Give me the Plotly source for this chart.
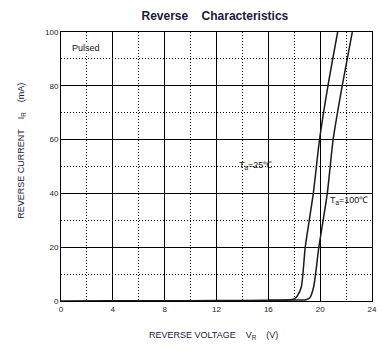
import plotly.graph_objects as go

# Data
v_25 = [0, 4, 8, 12, 16, 17.5, 18.0, 18.25, 18.55, 18.85, 19.47, 19.95, 20.6, 21.35]
i_25 = [0, 0.05, 0.1, 0.15, 0.25, 0.35, 0.8, 2.0, 5.3, 20, 40, 60, 80, 100]
v_100 = [16, 18.0, 18.9, 19.2, 19.5, 19.9, 20.55, 21.0, 21.7, 22.48]
i_100 = [0.25, 0.35, 0.5, 1.2, 5.3, 20, 40, 60, 80, 100]

x_ticks = [0, 4, 8, 12, 16, 20, 24]
y_ticks = [0, 20, 40, 60, 80, 100]

FONT = "Liberation Sans, Arial, sans-serif"
LINE = "#1a1a1a"
TITLE_COLOR = "#1a1a3a"

fig = go.Figure()
fig.add_trace(go.Scatter(x=v_25, y=i_25, mode="lines",
                         line=dict(color=LINE, width=1.5, shape="spline", smoothing=0.6),
                         showlegend=False, hoverinfo="skip"))
fig.add_trace(go.Scatter(x=v_100, y=i_100, mode="lines",
                         line=dict(color=LINE, width=1.5, shape="spline", smoothing=0.6),
                         showlegend=False, hoverinfo="skip"))

axis_common = dict(
    showline=True, linecolor="black", linewidth=1, mirror=True,
    showgrid=True, gridcolor="black", gridwidth=1,
    zeroline=False, ticks="", automargin=False,
    tickfont=dict(family=FONT, size=8, color="#222"),
)

fig.update_xaxes(range=[0, 24], tickvals=x_ticks, **axis_common,
                 minor=dict(dtick=2, tick0=0, showgrid=True, gridcolor="black",
                            griddash="1px,2px", gridwidth=1))
fig.update_yaxes(range=[0, 100], tickvals=y_ticks, **axis_common,
                 minor=dict(dtick=10, tick0=0, showgrid=True, gridcolor="black",
                            griddash="1px,2px", gridwidth=1))

title_font = dict(family=FONT, size=9, color=TITLE_COLOR)
fig.add_annotation(xref="paper", yref="paper", x=0.489, y=-0.130,
                   text="REVERSE VOLTAGE    V<sub>R</sub>    (V)", showarrow=False,
                   xanchor="center", yanchor="middle", font=title_font)
fig.add_annotation(xref="paper", yref="paper", x=-0.126, y=0.558, textangle=-90,
                   text="REVERSE CURRENT    I<sub>R</sub>    (mA)", showarrow=False,
                   xanchor="center", yanchor="middle", font=title_font)

ann_font = dict(family=FONT, size=9, color="#111")
fig.add_annotation(x=0.77, y=94.2, text="Pulsed", showarrow=False, xanchor="left",
                   yanchor="middle", font=ann_font, bgcolor="white", borderpad=0)
fig.add_annotation(x=13.55, y=50.5, text="T<sub>a</sub>=25℃", showarrow=False,
                   xanchor="left", yanchor="middle", font=ann_font)
fig.add_annotation(x=20.6, y=37.2, text="T<sub>a</sub>=100℃", showarrow=False,
                   xanchor="left", yanchor="middle", font=ann_font)

fig.update_layout(
    width=381, height=350,
    margin=dict(l=53, r=17, t=24, b=57),
    paper_bgcolor="white", plot_bgcolor="white",
    title=dict(text="<b>Reverse    Characteristics</b>", x=0.543, xanchor="center",
               y=0.977, yanchor="middle",
               font=dict(family=FONT, size=12, color=TITLE_COLOR)),
)

fig.write_html("out.html")
